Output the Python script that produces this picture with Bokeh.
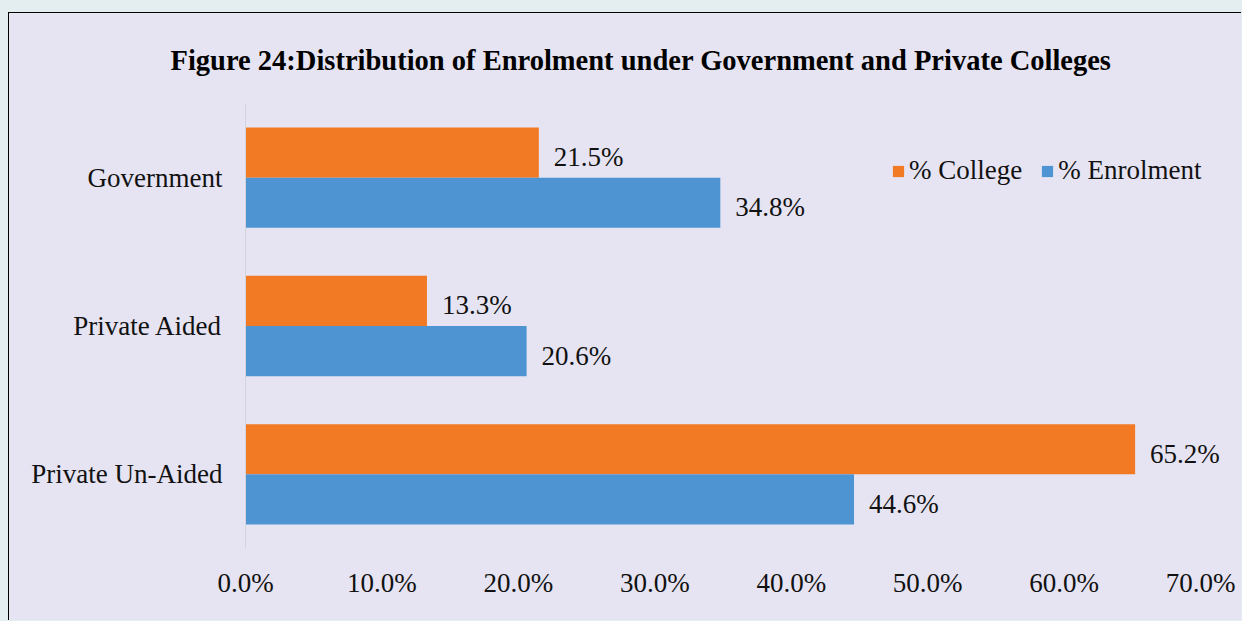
from bokeh.plotting import figure
from bokeh.models import (FactorRange, Range1d, ColumnDataSource, LabelSet, Legend,
                          LegendItem, FixedTicker)
from bokeh.transform import dodge
from bokeh.embed import file_html
from bokeh.resources import INLINE

categories = ["Government", "Private Aided", "Private Un-Aided"]
college = [21.5, 13.3, 65.2]
enrolment = [34.8, 20.6, 44.6]
tick_values = [0, 10, 20, 30, 40, 50, 60, 70]
tick_labels = ["0.0%", "10.0%", "20.0%", "30.0%", "40.0%", "50.0%", "60.0%", "70.0%"]

BG = "#E6E4F2"
ORANGE = "#F27A24"
BLUE = "#4E94D3"
FONT = "Liberation Serif"
FS = "27px"

src = ColumnDataSource(dict(
    cat=categories,
    college=college,
    enrolment=enrolment,
    college_lbl=[f"{v:.1f}%" for v in college],
    enrol_lbl=[f"{v:.1f}%" for v in enrolment],
))

p = figure(width=1233, height=608,
           y_range=FactorRange(*reversed(categories)),
           x_range=Range1d(0, 73.07),
           output_backend="svg", toolbar_location=None,
           min_border_left=236, min_border_right=0,
           min_border_top=90, min_border_bottom=73,
           background_fill_color=BG, border_fill_color=BG,
           outline_line_color=None)
p.styles = {"border-left": "1px solid #000", "border-top": "1px solid #000"}

p.title.text = "Figure 24:Distribution of Enrolment under Government and Private Colleges"
p.title.text_font = FONT
p.title.text_font_size = "28.5px"
p.title.text_font_style = "bold"
p.title.text_color = "#000000"
p.title.align = "left"
p.title.offset = -75
p.title.standoff = 55

bh = 0.338
r1 = p.hbar(y=dodge("cat", bh / 2, range=p.y_range), right="college", left=0,
            height=bh, source=src, fill_color=ORANGE, line_color=None)
r2 = p.hbar(y=dodge("cat", -bh / 2, range=p.y_range), right="enrolment", left=0,
            height=bh, source=src, fill_color=BLUE, line_color=None)

p.add_layout(LabelSet(x="college", y=dodge("cat", bh / 2 - 0.03, range=p.y_range),
                      text="college_lbl", source=src, x_offset=15,
                      text_baseline="middle", text_font=FONT,
                      text_font_size=FS, text_color="#111111"))
p.add_layout(LabelSet(x="enrolment", y=dodge("cat", -bh / 2 - 0.03, range=p.y_range),
                      text="enrol_lbl", source=src, x_offset=15,
                      text_baseline="middle", text_font=FONT,
                      text_font_size=FS, text_color="#111111"))

p.xgrid.grid_line_color = None
p.ygrid.grid_line_color = None

xa = p.xaxis[0]
xa.ticker = FixedTicker(ticks=tick_values)
xa.major_label_overrides = {v: l for v, l in zip(tick_values, tick_labels)}
xa.axis_line_color = None
xa.major_tick_line_color = None
xa.minor_tick_line_color = None
xa.major_label_text_font = FONT
xa.major_label_text_font_size = FS
xa.major_label_text_color = "#111111"
xa.major_label_standoff = 13

ya = p.yaxis[0]
ya.axis_line_color = "#D4D4DC"
ya.major_tick_line_color = None
ya.minor_tick_line_color = None
ya.major_label_text_font = FONT
ya.major_label_text_font_size = FS
ya.major_label_text_color = "#111111"
ya.major_label_standoff = 17

legend = Legend(items=[LegendItem(label="% College", renderers=[r1]),
                       LegendItem(label="% Enrolment", renderers=[r2])],
                orientation="horizontal", location=(646, 362),
                background_fill_alpha=0, border_line_color=None,
                label_text_font=FONT, label_text_font_size=FS,
                label_text_color="#111111",
                glyph_width=14, glyph_height=14, label_standoff=4,
                spacing=18, padding=0, margin=0)
p.add_layout(legend)

html = file_html(p, INLINE)
css = ('<style>html, body { background: #E4EDF0 !important; } '
       'body { margin: 0 !important; padding: 12px 0 0 8px !important; '
       'box-sizing: border-box !important; }</style>')
html = html.replace("</head>", css + "</head>", 1)
open("out.html", "w").write(html)
